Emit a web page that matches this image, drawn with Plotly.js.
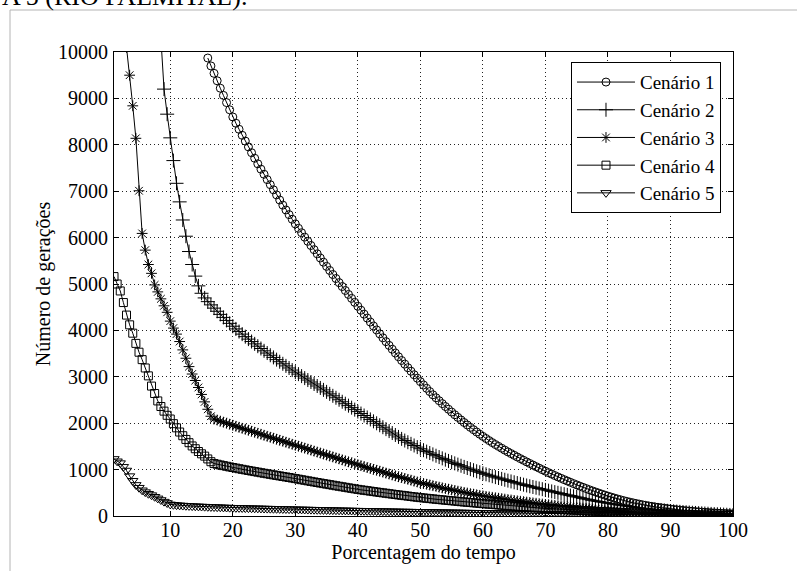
<!DOCTYPE html>
<html>
<head>
<meta charset="utf-8">
<script src="https://cdn.plot.ly/plotly-3.0.1.min.js"></script>
<style>html,body{margin:0;padding:0;background:#fff;}#chart{width:797px;height:571px;}</style>
</head>
<body>
<div id="chart"></div>
<script>
const xPct = [
1,1.5,2,2.5,3,3.5,4,4.5,5,5.5,
6,6.5,7,7.5,8,8.5,9,9.5,10,10.5,
11,11.5,12,12.5,13,13.5,14,14.5,15,15.5,
16,16.5,17,17.5,18,18.5,19,19.5,20,20.5,
21,21.5,22,22.5,23,23.5,24,24.5,25,25.5,
26,26.5,27,27.5,28,28.5,29,29.5,30,30.5,
31,31.5,32,32.5,33,33.5,34,34.5,35,35.5,
36,36.5,37,37.5,38,38.5,39,39.5,40,40.5,
41,41.5,42,42.5,43,43.5,44,44.5,45,45.5,
46,46.5,47,47.5,48,48.5,49,49.5,50,50.5,
51,51.5,52,52.5,53,53.5,54,54.5,55,55.5,
56,56.5,57,57.5,58,58.5,59,59.5,60,60.5,
61,61.5,62,62.5,63,63.5,64,64.5,65,65.5,
66,66.5,67,67.5,68,68.5,69,69.5,70,70.5,
71,71.5,72,72.5,73,73.5,74,74.5,75,75.5,
76,76.5,77,77.5,78,78.5,79,79.5,80,80.5,
81,81.5,82,82.5,83,83.5,84,84.5,85,85.5,
86,86.5,87,87.5,88,88.5,89,89.5,90,90.5,
91,91.5,92,92.5,93,93.5,94,94.5,95,95.5,
96,96.5,97,97.5,98,98.5,99,99.5,100];

const cenario1 = [
null,null,null,null,null,null,null,null,null,null,
null,null,null,null,null,null,null,null,null,null,
null,null,null,null,null,null,null,null,null,null,
9870,9700,9540,9380,9220,9065,8910,8755,8600,8465,
8335,8205,8080,7955,7830,7710,7590,7475,7365,7250,
7140,7030,6920,6810,6700,6595,6495,6395,6295,6200,
6105,6010,5920,5830,5740,5650,5560,5470,5380,5292,
5205,5118,5030,4945,4860,4775,4690,4605,4520,4435,
4350,4265,4180,4095,4010,3925,3840,3758,3676,3594,
3512,3432,3352,3274,3196,3120,3044,2970,2896,2824,
2752,2682,2612,2548,2485,2422,2360,2300,2240,2182,
2125,2070,2015,1962,1910,1860,1810,1762,1715,1670,
1625,1582,1540,1500,1460,1420,1382,1345,1308,1272,
1236,1201,1166,1132,1098,1064,1031,998,966,934,
903,872,842,812,783,754,726,698,671,644,
618,592,567,542,518,495,472,450,428,408,
388,368,350,332,315,299,284,270,256,243,
230,218,207,196,186,177,168,159,150,142,
134,127,120,113,107,101,95,90,85,80,
75,71,67,63,59,56,53,50,47];

const cenario2 = [
null,null,null,null,null,null,null,null,null,null,
null,null,null,null,null,10300,9200,8660,8150,7660,
7170,6770,6380,6030,5700,5420,5170,4960,4800,4700,
4620,4550,4480,4412,4345,4280,4215,4152,4090,4032,
3975,3920,3865,3812,3760,3710,3660,3610,3560,3512,
3465,3418,3370,3325,3280,3235,3190,3145,3100,3058,
3015,2972,2930,2888,2845,2802,2760,2718,2675,2632,
2590,2548,2505,2462,2420,2378,2335,2292,2250,2208,
2166,2124,2082,2040,1998,1956,1914,1872,1830,1788,
1746,1704,1662,1626,1590,1555,1520,1485,1450,1419,
1388,1358,1328,1299,1270,1242,1214,1187,1160,1134,
1108,1083,1058,1034,1010,987,964,942,920,899,
878,858,838,819,800,781,763,745,727,710,
692,675,658,641,625,609,593,578,562,546,
530,515,500,485,470,455,440,425,410,395,
380,366,352,338,325,312,300,288,276,265,
254,243,233,223,213,203,194,185,176,168,
160,152,145,138,131,124,118,112,106,100,
95,90,85,80,75,70,66,61,57,53,
49,45,41,37,34,30,27,23,20];

const cenario3 = [
null,null,null,null,10100,9500,8840,8140,7010,6090,
5730,5420,5230,4980,4830,4680,4530,4390,4200,4050,
3920,3760,3580,3400,3220,3060,2920,2770,2620,2460,
2300,2150,2090,2068,2045,2022,2000,1978,1955,1934,
1912,1890,1869,1848,1826,1804,1783,1762,1740,1718,
1697,1676,1654,1632,1611,1590,1568,1546,1525,1504,
1483,1462,1441,1420,1399,1378,1357,1336,1315,1294,
1273,1252,1231,1210,1189,1168,1147,1126,1105,1085,
1065,1045,1025,1005,985,965,945,925,905,886,
866,847,828,809,790,772,753,734,716,700,
684,668,653,638,622,607,592,578,563,549,
535,522,508,495,482,470,457,445,433,423,
413,403,393,383,373,364,354,345,336,327,
318,309,300,292,283,275,266,258,250,243,
236,229,222,215,208,202,195,189,182,176,
170,164,158,152,146,140,135,130,124,119,
114,109,104,100,95,90,86,82,78,74,
70,66,63,60,56,53,50,47,44,42,
39,37,35,33,31,29,27,25,24,22,
21,19,18,16,15,13,12,11,10];

const cenario4 = [
5160,5000,4850,4600,4330,4120,3940,3720,3530,3370,
3190,3020,2800,2640,2480,2360,2260,2170,2090,1990,
1900,1810,1730,1650,1580,1510,1450,1390,1340,1290,
1230,1170,1130,1115,1100,1086,1072,1058,1045,1032,
1019,1006,994,981,969,957,945,933,921,910,
898,886,875,864,852,841,830,818,806,794,
782,770,758,746,734,722,710,698,687,676,
664,652,641,630,618,607,596,585,574,564,
555,546,536,526,517,508,499,490,481,472,
463,454,446,438,429,420,412,404,396,389,
382,375,368,361,354,348,341,334,328,322,
315,308,302,296,290,284,278,272,266,260,
255,250,244,238,233,228,222,217,212,207,
202,197,192,187,182,178,173,168,164,160,
155,151,147,143,139,135,131,127,123,120,
116,112,109,106,102,98,95,92,89,86,
83,80,77,74,71,68,66,64,61,58,
56,54,51,49,47,45,43,41,39,37,
35,33,32,30,29,28,26,24,23,22,
20,18,17,16,14,13,12,11,10];

const cenario5 = [
1230,1180,1140,1060,980,860,760,670,610,555,
515,480,450,415,380,345,310,280,250,242,
235,230,225,221,217,213,210,207,204,201,
198,195,193,190,188,185,183,180,178,176,
175,173,171,170,168,166,165,163,161,160,
158,156,155,153,151,150,148,146,145,143,
142,140,139,137,136,134,133,131,130,128,
127,125,124,122,121,119,118,116,115,114,
112,111,110,109,107,106,105,104,102,101,
100,99,97,96,95,94,92,91,90,89,
88,87,86,84,83,82,81,80,79,78,
77,76,75,73,72,71,70,69,68,67,
66,65,64,63,62,61,60,59,58,57,
56,55,54,53,52,51,50,49,48,47,
46,45,44,43,42,42,41,40,39,38,
37,36,35,34,33,32,31,31,30,29,
28,28,27,26,25,25,24,23,22,22,
21,20,19,19,18,17,16,16,15,14,
14,13,12,12,11,10,10,9,9,8,
8,7,7,6,6,6,5,5,5];

const seriesNames = ['Cenário 1','Cenário 2','Cenário 3','Cenário 4','Cenário 5'];
const xTickVals = [10,20,30,40,50,60,70,80,90,100];
const yTickVals = [0,1000,2000,3000,4000,5000,6000,7000,8000,9000,10000];

const FONT = '"Liberation Serif", "Times New Roman", Times, serif';
const seriesY = [cenario1, cenario2, cenario3, cenario4, cenario5];
const symbols = ['circle-open','cross-thin-open','asterisk-open','square-open','triangle-down-open'];
const sizes = [8, 10, 9, 8, 9];

const traces = seriesY.map((ys, i) => ({
  x: xPct, y: ys, name: seriesNames[i], type: 'scatter', mode: 'lines+markers',
  line: {color: '#000', width: 1},
  marker: {symbol: symbols[i], size: sizes[i], color: '#000', line: {color: '#000', width: 1}},
  connectgaps: false
}));

const axisCommon = {
  showgrid: true, gridcolor: '#222', gridwidth: 1, griddash: '1px,3px',
  zeroline: false, showline: true, linecolor: '#000', linewidth: 1,
  mirror: 'ticks', ticks: 'inside', ticklen: 5, tickcolor: '#000', tickwidth: 1,
  tickfont: {family: FONT, size: 20, color: '#000'}, automargin: false
};

const layout = {
  width: 797, height: 571,
  margin: {l: 114, r: 64, t: 52, b: 55},
  paper_bgcolor: '#fff', plot_bgcolor: '#fff',
  font: {family: FONT, size: 20, color: '#000'},
  showlegend: true,
  xaxis: Object.assign({}, axisCommon, {
    range: [1, 100], tickvals: xTickVals, ticktext: xTickVals.map(String),
    ticklabelstandoff: -4,
    title: {text: 'Porcentagem do tempo', font: {family: FONT, size: 20, color: '#000'}, standoff: 2}
  }),
  yaxis: Object.assign({}, axisCommon, {
    range: [0, 10000], tickvals: yTickVals, ticktext: yTickVals.map(String),
    ticklabelstandoff: 1,
    title: {text: 'Número de gerações', font: {family: FONT, size: 20, color: '#000'}, standoff: 2}
  }),
  legend: {
    x: 0.9806, xanchor: 'right', y: 0.978, yanchor: 'top',
    bgcolor: '#fff', bordercolor: '#000', borderwidth: 1,
    font: {family: FONT, size: 19, color: '#000'}, itemwidth: 58, tracegroupgap: 0
  },
  shapes: [
    {type: 'line', xref: 'paper', yref: 'paper', x0: -0.168, x1: -0.168, y0: -0.1185, y1: 1.0905, line: {color: '#b4b4b4', width: 1}},
    {type: 'line', xref: 'paper', yref: 'paper', x0: -0.168, x1: 1.11, y0: 1.0905, y1: 1.0905, line: {color: '#b4b4b4', width: 1}}
  ],
  annotations: [
    {text: 'A 5 (RIO PALMITAL).', xref: 'paper', yref: 'paper', x: -0.184, xanchor: 'left', y: 1.084, yanchor: 'bottom', showarrow: false, font: {family: FONT, size: 26, color: '#000'}}
  ]
};

Plotly.newPlot('chart', traces, layout, {displayModeBar: false, staticPlot: true});
</script>
</body>
</html>
